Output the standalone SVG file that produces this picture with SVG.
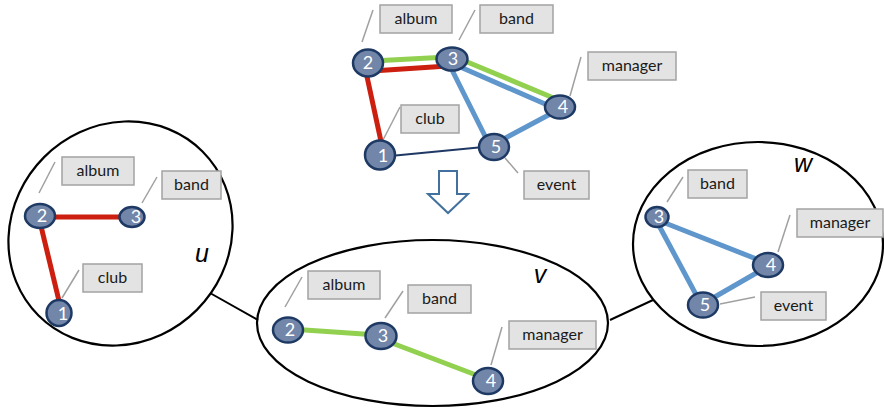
<svg xmlns="http://www.w3.org/2000/svg" width="884" height="409" viewBox="0 0 884 409">
  <style>
    .bg { fill: #ffffff; }
    .group { fill: none; stroke: #000000; stroke-width: 2.2; }
    .link { stroke: #000000; stroke-width: 2; }
    .red { stroke: #CC1F0F; stroke-width: 5; stroke-linecap: butt; }
    .green { stroke: #92D050; stroke-width: 5; stroke-linecap: butt; }
    .blue { stroke: #5F96CC; stroke-width: 5; stroke-linecap: butt; }
    .navy { stroke: #1F3864; stroke-width: 2; }
    .node { fill: #7186A8; stroke: #1E3A64; stroke-width: 2.5; }
    .num { fill: #ffffff; font-family: Lato, "Open Sans", "Liberation Sans", sans-serif; font-size: 18px; text-anchor: middle; }
    .tag { fill: #E3E3E3; stroke: #A3A3A3; stroke-width: 1.5; }
    .tagtext { fill: #1a1a1a; font-family: Lato, "Open Sans", "Liberation Sans", sans-serif; font-size: 16px; text-anchor: middle; }
    .leader { stroke: #A0A0A0; stroke-width: 1.5; }
    .setname { fill: #000000; font-family: "Liberation Sans", Arial, sans-serif; font-size: 25px; font-style: italic; text-anchor: middle; }
    .arrow { fill: #ffffff; stroke: #41719C; stroke-width: 2; stroke-linejoin: miter; }
  </style>

  <rect class="bg" x="0" y="0" width="884" height="409"/>

  <!-- set outlines and their names -->
  <g id="sets">
    <ellipse class="group" cx="120.5" cy="233.5" rx="116" ry="108" transform="rotate(-45 120.5 233.5)"/>
    <ellipse class="group" cx="432.5" cy="323" rx="175.5" ry="83"/>
    <ellipse class="group" cx="758" cy="244" rx="125" ry="102"/>
    <text class="setname" x="202" y="262">u</text>
    <text class="setname" x="540" y="283">v</text>
    <text class="setname" x="803" y="172">w</text>
  </g>

  <g id="connectors">
    <!-- links between sets -->
    <line class="link" x1="210" y1="293" x2="258" y2="320"/>
    <line class="link" x1="610" y1="320" x2="653" y2="300"/>

    <!-- full graph -->
    <line class="green" x1="372" y1="61" x2="448" y2="57"/>
    <line class="red" x1="372" y1="71" x2="448" y2="66"/>
    <line class="red" x1="366" y1="72" x2="382" y2="146"/>
    <line class="green" x1="460" y1="59" x2="556" y2="99"/>
    <line class="blue" x1="458" y1="66" x2="552" y2="107"/>
    <line class="blue" x1="450" y1="66" x2="488" y2="142"/>
    <line class="blue" x1="556" y1="111" x2="498" y2="142"/>
    <line class="navy" x1="380" y1="157" x2="494" y2="146"/>

    <!-- u -->
    <line class="red" x1="42" y1="217" x2="128" y2="217"/>
    <line class="red" x1="40" y1="222" x2="60" y2="305"/>

    <!-- v -->
    <line class="green" x1="290" y1="329" x2="378" y2="335"/>
    <line class="green" x1="384" y1="340" x2="484" y2="378"/>

    <!-- w -->
    <line class="blue" x1="660" y1="221" x2="764" y2="262"/>
    <line class="blue" x1="656" y1="220" x2="700" y2="302"/>
    <line class="blue" x1="765" y1="268" x2="706" y2="302"/>

    <!-- label leaders -->
    <line class="leader" x1="373" y1="10" x2="362" y2="42"/>
    <line class="leader" x1="475" y1="10" x2="459" y2="40"/>
    <line class="leader" x1="581" y1="57" x2="570" y2="96"/>
    <line class="leader" x1="400" y1="107" x2="383" y2="140"/>
    <line class="leader" x1="505" y1="158" x2="518" y2="173"/>
    <line class="leader" x1="55" y1="162" x2="39" y2="193"/>
    <line class="leader" x1="157" y1="177" x2="142" y2="203"/>
    <line class="leader" x1="79" y1="270" x2="62" y2="298"/>
    <line class="leader" x1="302" y1="277" x2="285" y2="307"/>
    <line class="leader" x1="403" y1="291" x2="385" y2="318"/>
    <line class="leader" x1="502" y1="327" x2="491" y2="365"/>
    <line class="leader" x1="683" y1="177" x2="667" y2="202"/>
    <line class="leader" x1="790" y1="215" x2="778" y2="252"/>
    <line class="leader" x1="755" y1="297" x2="720" y2="304"/>
  </g>

  <!-- down arrow between the full graph and the sets -->
  <polygon id="arrow" class="arrow" points="439,171 457,171 457,194 468,194 448,213 428,194 439,194"/>

  <!-- full graph nodes -->
  <g id="top-2"><ellipse class="node" cx="368" cy="63" rx="15" ry="13.5"/><text class="num" x="368" y="69">2</text></g>
  <g id="top-3"><ellipse class="node" cx="452" cy="59" rx="15.5" ry="11.5"/><text class="num" x="453" y="65">3</text></g>
  <g id="top-4"><ellipse class="node" cx="560" cy="107" rx="15" ry="11.5"/><text class="num" x="563" y="113">4</text></g>
  <g id="top-5"><ellipse class="node" cx="494" cy="147" rx="15" ry="13"/><text class="num" x="496" y="153">5</text></g>
  <g id="top-1"><ellipse class="node" cx="380" cy="155" rx="15" ry="14.5"/><text class="num" x="383" y="162">1</text></g>

  <!-- full graph labels -->
  <g id="top-album"><rect class="tag" x="380" y="5" width="72" height="28"/><text class="tagtext" x="416" y="24">album</text></g>
  <g id="top-band"><rect class="tag" x="480" y="5" width="73" height="28"/><text class="tagtext" x="516.5" y="24">band</text></g>
  <g id="top-manager"><rect class="tag" x="588" y="52" width="88" height="28"/><text class="tagtext" x="632" y="71">manager</text></g>
  <g id="top-club"><rect class="tag" x="401" y="105" width="58" height="28"/><text class="tagtext" x="430" y="124">club</text></g>
  <g id="top-event"><rect class="tag" x="524" y="171" width="65" height="28"/><text class="tagtext" x="556.5" y="190">event</text></g>

  <!-- set u -->
  <g id="u-2"><ellipse class="node" cx="40" cy="216" rx="15" ry="12"/><text class="num" x="42" y="222">2</text></g>
  <g id="u-3"><ellipse class="node" cx="132" cy="217" rx="12.5" ry="10"/><text class="num" x="136" y="223">3</text></g>
  <g id="u-1"><ellipse class="node" cx="59" cy="313" rx="12.5" ry="13"/><text class="num" x="63" y="320">1</text></g>
  <g id="u-album"><rect class="tag" x="62" y="157" width="72" height="28"/><text class="tagtext" x="98" y="176">album</text></g>
  <g id="u-band"><rect class="tag" x="162" y="171" width="59" height="28"/><text class="tagtext" x="191.5" y="190">band</text></g>
  <g id="u-club"><rect class="tag" x="83" y="264" width="59" height="28"/><text class="tagtext" x="112.5" y="283">club</text></g>

  <!-- set v -->
  <g id="v-2"><ellipse class="node" cx="288" cy="330" rx="15" ry="12.5"/><text class="num" x="290" y="336">2</text></g>
  <g id="v-3"><ellipse class="node" cx="381" cy="336" rx="15.5" ry="13"/><text class="num" x="383" y="342">3</text></g>
  <g id="v-4"><ellipse class="node" cx="488" cy="381" rx="15" ry="13"/><text class="num" x="491" y="387">4</text></g>
  <g id="v-album"><rect class="tag" x="308" y="271" width="72" height="28"/><text class="tagtext" x="344" y="290">album</text></g>
  <g id="v-band"><rect class="tag" x="408" y="285" width="63" height="28"/><text class="tagtext" x="439.5" y="304">band</text></g>
  <g id="v-manager"><rect class="tag" x="509" y="321" width="87" height="28"/><text class="tagtext" x="552.5" y="340">manager</text></g>

  <!-- set w -->
  <g id="w-3"><ellipse class="node" cx="657" cy="217" rx="11.5" ry="10"/><text class="num" x="659" y="223">3</text></g>
  <g id="w-4"><ellipse class="node" cx="768" cy="265" rx="15" ry="12"/><text class="num" x="771" y="271">4</text></g>
  <g id="w-5"><ellipse class="node" cx="703" cy="305" rx="15" ry="12.5"/><text class="num" x="705" y="311">5</text></g>
  <g id="w-band"><rect class="tag" x="688" y="170" width="59" height="28"/><text class="tagtext" x="717.5" y="189">band</text></g>
  <g id="w-manager"><rect class="tag" x="797" y="209" width="86" height="28"/><text class="tagtext" x="840" y="228">manager</text></g>
  <g id="w-event"><rect class="tag" x="761" y="292" width="65" height="28"/><text class="tagtext" x="793.5" y="311">event</text></g>
</svg>
